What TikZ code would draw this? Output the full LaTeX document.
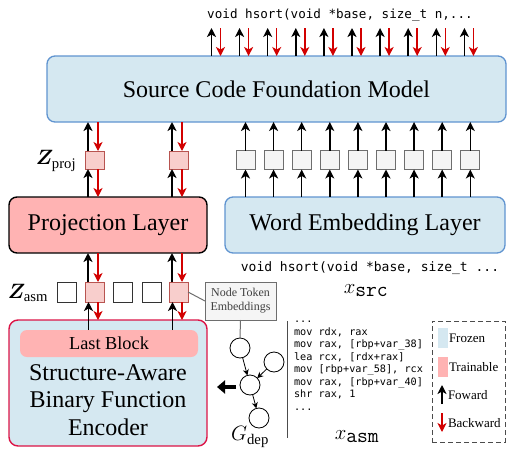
\documentclass[tikz,border=0pt]{standalone}
\usepackage{fontspec}
\setmainfont{Liberation Serif}
\newfontfamily\codefont{DejaVu Sans Mono}
\usepackage{bm}
\usetikzlibrary{arrows.meta,calc}
\definecolor{fzfill}{RGB}{213,232,241}
\definecolor{fzdraw}{RGB}{96,148,208}
\definecolor{trfill}{RGB}{255,179,179}
\definecolor{zfill}{RGB}{248,206,204}
\definecolor{zdraw}{RGB}{184,84,80}
\definecolor{gfill}{RGB}{245,245,245}
\definecolor{gdraw}{RGB}{110,110,110}
\definecolor{encdraw}{RGB}{220,20,70}
\definecolor{bwred}{RGB}{210,0,0}
\begin{document}
\begin{tikzpicture}[x=1pt,y=-1pt,
  every node/.style={inner sep=0pt, outer sep=0pt},
  bigtxt/.style={font=\fontsize{24}{27.5}\selectfont},
  frozenblk/.style={draw=fzdraw, fill=fzfill, line width=1.3pt, rounded corners=8pt, bigtxt},
  projblk/.style={draw=black, fill=trfill, line width=1.4pt, rounded corners=8pt, bigtxt},
  encblk/.style={draw=encdraw, fill=fzfill, line width=1.4pt, rounded corners=9pt},
  zbox/.style={draw=zdraw, fill=zfill, line width=0.8pt, minimum width=19pt, minimum height=18pt},
  wbox/.style={draw=black!80, fill=white, line width=0.8pt, minimum width=19pt, minimum height=20pt},
  gbox/.style={draw=gdraw, fill=gfill, line width=0.8pt, minimum width=19pt, minimum height=19pt},
  gnode/.style={circle, draw=black, fill=white, line width=0.8pt, minimum size=20pt},
  fw/.style={draw=black, line width=1.5pt, -{Stealth[length=9pt,width=9pt,inset=2.5pt]}},
  bw/.style={draw=bwred, line width=1.5pt, -{Stealth[length=9pt,width=9pt,inset=2.5pt]}},
  garrow/.style={draw=black, line width=0.8pt, -{Stealth[length=6pt,width=6pt]}},
  glink/.style={draw=gdraw, line width=1pt},
  code/.style={font=\codefont\fontsize{12.6}{14}\selectfont},
  lbl/.style={font=\fontsize{21}{24}\selectfont},
  legtxt/.style={font=\fontsize{13}{15}\selectfont, anchor=west}
]
\useasboundingbox (0,0) rectangle (507,448);

% main blocks
\node[frozenblk, minimum width=459pt, minimum height=66pt] (scfm) at (276.5,89) {Source Code Foundation Model};
\node[projblk, minimum width=198pt, minimum height=56pt] (proj) at (108,225) {Projection Layer};
\node[frozenblk, minimum width=280pt, minimum height=56pt] (wel) at (365,225) {Word Embedding Layer};
\node[encblk, minimum width=198pt, minimum height=126pt] (enc) at (108,383) {};
\node[fill=trfill, rounded corners=7pt, minimum width=178pt, minimum height=27pt, font=\fontsize{18.3}{20}\selectfont] (last) at (109,343.5) {Last Block};
\node[bigtxt, align=center] (enctxt) at (108,400) {Structure-Aware\\Binary Function\\Encoder};

% top code text and arrows
\node[code] (toptxt) at (340,15) {void hsort(void *base, size\_t n,...};
\foreach \i in {0,...,9} {
  \coordinate (tb\i) at ({211.5+28.1*\i},28);
  \coordinate (tr\i) at ({220.5+28.1*\i},28);
  \draw[fw] (tb\i |- scfm.north) -- (tb\i);
  \draw[bw] (tr\i) -- (tr\i |- scfm.north);
}

% Z_proj boxes
\node[zbox] (zp1) at (94.5,160) {};
\node[zbox] (zp2) at (178.5,160) {};
\node[lbl] (zplbl) at (56,161) {$\bm{Z}_{\mathrm{proj}}$};
\foreach \z in {zp1,zp2} {
  \draw[fw] ([xshift=-6.5pt]\z.north) -- ([xshift=-6.5pt]\z.north |- scfm.south);
  \draw[bw] ([xshift=3.5pt]\z.north |- scfm.south) -- ([xshift=3.5pt]\z.north);
  \draw[fw] ([xshift=-6.5pt]\z.south |- proj.north) -- ([xshift=-6.5pt]\z.south);
  \draw[bw] ([xshift=3.5pt]\z.south) -- ([xshift=3.5pt]\z.south |- proj.north);
}

% word embedding tokens
\foreach \i in {1,...,9} {
  \node[gbox] (g\i) at ({245.5+28.1*(\i-1)},160) {};
  \draw[fw] (g\i.south |- wel.north) -- (g\i.south);
  \draw[fw] (g\i.north) -- (g\i.north |- scfm.south);
}
\node[code, font=\codefont\fontsize{13}{14}\selectfont] (srctxt) at (370,268) {void hsort(void *base, size\_t ...};
\node[lbl] (xsrc) at (366,291) {$x_{\texttt{src}}$};

% Z_asm boxes
\node[lbl] (zalbl) at (28,293) {$\bm{Z}_{\mathrm{asm}}$};
\node[wbox] (a1) at (66.5,292) {};
\node[zbox, minimum height=20pt] (a2) at (94.5,292) {};
\node[wbox] (a3) at (122.5,292) {};
\node[wbox] (a4) at (151.5,292) {};
\node[zbox, minimum height=20pt] (a5) at (178.5,292) {};
\foreach \z in {a2,a5} {
  \draw[fw] ([xshift=-6.5pt]\z.north) -- ([xshift=-6.5pt]\z.north |- proj.south);
  \draw[bw] ([xshift=3.5pt]\z.north |- proj.south) -- ([xshift=3.5pt]\z.north);
  \draw[fw] ([xshift=-6pt]\z.south |- last.north) -- ([xshift=-6pt]\z.south);
  \draw[bw] ([xshift=3.5pt]\z.south) -- ([xshift=3.5pt]\z.south |- enc.north);
}

% node token embeddings and graph
\node[draw=gdraw, fill=gfill, line width=0.8pt, minimum width=71pt, minimum height=38pt, align=center,
      font=\fontsize{12}{14}\selectfont, text=black!75] (nte) at (240.5,301) {Node Token\\Embeddings};
\draw[glink] (a5.east) -- (nte.west);
\node[gnode] (ca) at (240,348) {};
\node[gnode] (cb) at (274,362) {};
\node[gnode] (cc) at (250,385) {};
\node[gnode] (cd) at (259,418) {};
\draw[glink] (nte.south) -- (ca.north);
\draw[garrow] (ca) -- (cc);
\draw[garrow] (cb) -- (cc);
\draw[garrow] (cc) -- (cd);
\coordinate (fatS) at (236,387);
\coordinate (fatE) at (217,387);
\draw[line width=4pt, -{Triangle[length=8pt,width=13pt]}] (fatS) -- (fatE);
\node[lbl] (gdep) at (250,437) {$G_{\mathrm{dep}}$};

% assembly
\coordinate (sepT) at (287,321);
\coordinate (sepB) at (287,438);
\draw[draw=black!70, line width=1pt] (sepT) -- (sepB);
\node[anchor=north west, align=left, font=\codefont\fontsize{10.2}{12.5}\selectfont] (asm) at (294,321)
 {...\\mov rdx, rax\\mov rax, [rbp+var\_38]\\lea rcx, [rdx+rax]\\mov [rbp+var\_58], rcx\\mov rax, [rbp+var\_40]\\shr rax, 1\\...};
\node[lbl] (xasm) at (357,437) {$x_{\texttt{asm}}$};

% legend
\node[draw=black!70, dashed, line width=1pt, dash pattern=on 5pt off 3pt, minimum width=73pt, minimum height=121pt] (leg) at (468.5,381.5) {};
\node[fill=fzfill, minimum width=10pt, minimum height=20pt] (lfz) at (443,338) {};
\node[fill=trfill, minimum width=10pt, minimum height=20pt] (ltr) at (443,367) {};
\node[legtxt] (tfz) at (449,338) {Frozen};
\node[legtxt] (ttr) at (449,367) {Trainable};
\coordinate (lfwS) at (442,404);
\coordinate (lfwE) at (442,385);
\coordinate (lbwS) at (442,413);
\coordinate (lbwE) at (442,432);
\draw[fw] (lfwS) -- (lfwE);
\draw[bw] (lbwS) -- (lbwE);
\node[legtxt] (tfw) at (448,395) {Foward};
\node[legtxt] (tbw) at (448,423) {Backward};
\end{tikzpicture}
\end{document}
